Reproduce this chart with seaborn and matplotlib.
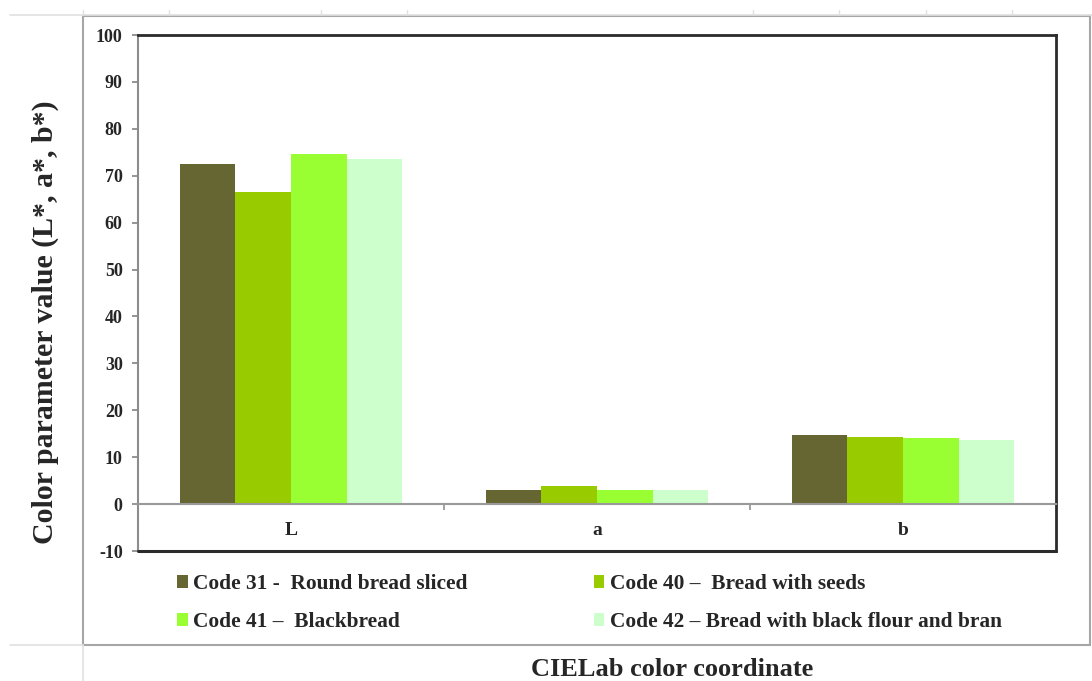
import matplotlib
matplotlib.use("Agg")
import matplotlib.pyplot as plt
from matplotlib.patches import Patch, Rectangle
from matplotlib.lines import Line2D
import numpy as np
import pandas as pd
import seaborn as sns

# CIELab colour coordinates of four bread samples
coordinates = ["L", "a", "b"]
samples = [
    "Code 31 -  Round bread sliced",
    "Code 40 \u2013  Bread with seeds",
    "Code 41 \u2013  Blackbread",
    "Code 42 \u2013 Bread with black flour and bran",
]
code31 = [72.6, 3.0, 14.8]
code40 = [66.6, 3.8, 14.4]
code41 = [74.7, 2.9, 14.0]
code42 = [73.5, 2.9, 13.6]
colors = ["#666633", "#99CC00", "#99FF33", "#CCFFCC"]
y_ticks = list(range(-10, 101, 10))

df = pd.DataFrame({
    "coordinate": coordinates * 4,
    "sample": np.repeat(samples, 3),
    "value": code31 + code40 + code41 + code42,
})

sns.set_theme(style="white")
plt.rcParams["font.family"] = ["Liberation Serif", "DejaVu Serif"]
plt.rcParams["font.weight"] = "bold"

W, H = 1092, 681
fig = plt.figure(figsize=(W / 100, H / 100), dpi=100)
fig.patch.set_facecolor("white")

# spreadsheet-style frame around the chart area
for x0, y0, x1, y1 in [(10, 15, 1092, 15), (10, 645, 83, 645), (83, 645, 83, 681)]:
    fig.add_artist(Line2D([x0 / W, x1 / W], [1 - y0 / H, 1 - y1 / H],
                          color="#e0e0e0", lw=1.2))
for xt in [83, 169, 321, 407, 753, 839, 926, 1012]:
    fig.add_artist(Line2D([xt / W, xt / W], [1 - 10 / H, 1 - 15 / H],
                          color="#e0e0e0", lw=1))
fig.add_artist(Rectangle((83 / W, 1 - 645 / H), (1090 - 83) / W, (645 - 16) / H,
                         transform=fig.transFigure, fill=False,
                         edgecolor="#a6a6a6", lw=1.5))

ax = fig.add_axes([138 / W, 1 - 551 / H, (1056 - 138) / W, (551 - 35) / H])
sns.barplot(data=df, x="coordinate", y="value", hue="sample",
            hue_order=samples, order=coordinates, palette=colors,
            width=4 / 5.5, gap=0, saturation=1, errorbar=None,
            linewidth=0, edgecolor="none", legend=False, ax=ax)

ax.set_xlim(-0.5, 2.5)
ax.set_ylim(-10, 100)
ax.set_yticks(y_ticks)
ax.set_yticklabels([str(v) for v in y_ticks], fontsize=13, fontweight="bold")
ax.set_xlabel("")
ax.set_ylabel("")

# category axis drawn along zero
ax.spines["bottom"].set_position(("data", 0))
ax.spines["bottom"].set_color("#9a9a9a")
ax.spines["bottom"].set_linewidth(1.5)
ax.spines["left"].set_color("#8c8c8c")
ax.spines["left"].set_linewidth(1.5)
for s in ["top", "right"]:
    ax.spines[s].set_color("#2b2b2b")
    ax.spines[s].set_linewidth(2)
ax.axhline(-10, color="#2b2b2b", lw=2.2, clip_on=False, zorder=5)

ax.set_xticks([0, 1, 2])
ax.set_xticklabels(coordinates, fontsize=14, fontweight="bold")
ax.set_xticks([0.5, 1.5], minor=True)
ax.tick_params(axis="x", which="major", length=0, pad=13)
ax.tick_params(axis="x", which="minor", length=4, width=1.3, color="#9a9a9a",
               direction="out", bottom=True)
ax.tick_params(axis="y", length=4, width=1.3, color="#8c8c8c", left=True,
               direction="out", pad=7)
for lab in ax.get_xticklabels() + ax.get_yticklabels():
    lab.set_fontweight("bold")

fig.text(45 / W, 1 - 322 / H, "Color parameter value (L*, a*, b*)",
         rotation=90, ha="center", va="center", fontsize=21.5, fontweight="bold")
fig.text(672 / W, 1 - 670 / H, "CIELab color coordinate",
         ha="center", va="center", fontsize=19, fontweight="bold")

handles = [Patch(facecolor=c, edgecolor="none") for c in colors]
order = [0, 2, 1, 3]
leg = fig.legend([handles[i] for i in order], [samples[i] for i in order],
                 ncol=2, loc="upper left",
                 bbox_to_anchor=(177 / W, 1 - 574 / H),
                 frameon=False, fontsize=15.4, handlelength=0.5,
                 handleheight=0.55, handletextpad=0.25, columnspacing=5.9,
                 labelspacing=0.85, borderpad=0, borderaxespad=0)
for t in leg.get_texts():
    t.set_fontweight("bold")

fig.savefig("out.png", dpi=100)
